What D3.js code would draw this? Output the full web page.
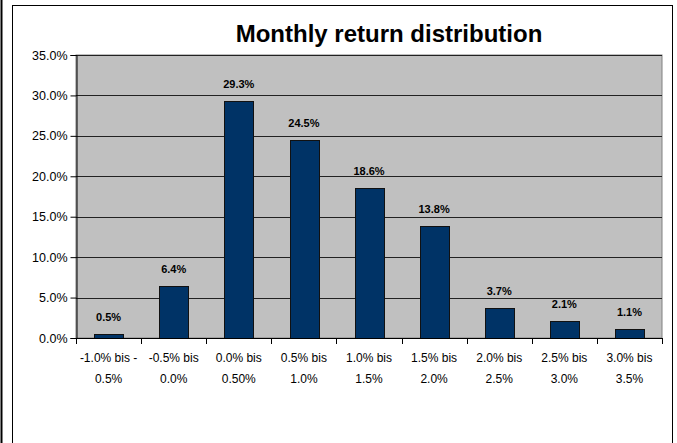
<!DOCTYPE html>
<html><head><meta charset="utf-8">
<script src="https://cdn.jsdelivr.net/npm/d3@7"></script>
<style>body{margin:0;background:#fff;}svg{display:block;font-family:"Liberation Sans",Arial,sans-serif;}</style>
</head><body>
<script>
const categories1 = ["-1.0% bis -","-0.5% bis","0.0% bis","0.5% bis","1.0% bis","1.5% bis","2.0% bis","2.5% bis","3.0% bis"];
const categories2 = ["0.5%","0.0%","0.50%","1.0%","1.5%","2.0%","2.5%","3.0%","3.5%"];
const values = [0.5, 6.4, 29.3, 24.5, 18.6, 13.8, 3.7, 2.1, 1.1];
const valueLabels = ["0.5%","6.4%","29.3%","24.5%","18.6%","13.8%","3.7%","2.1%","1.1%"];
const yTicks = [0,5,10,15,20,25,30,35];

const W=677,H=443;
const svg=d3.select("body").append("svg").attr("width",W).attr("height",H);
// outer frames
svg.append("line").attr("x1",1.5).attr("x2",1.5).attr("y1",0).attr("y2",H).attr("stroke","#000").attr("stroke-width",2);
svg.append("rect").attr("x",12.5).attr("y",5.5).attr("width",660).attr("height",450).attr("fill","#fff").attr("stroke","#000").attr("stroke-width",1);

const L=76,R=662,T=55,B=338;
const x=d3.scaleBand().domain(d3.range(values.length)).range([L,R]).paddingInner(0.56).paddingOuter(0.28);
const xTick=d3.scaleBand().domain(d3.range(values.length)).range([L,R]);
const y=d3.scaleLinear().domain([0,35]).range([B,T]);

svg.append("rect").attr("x",L).attr("y",T).attr("width",R-L).attr("height",B-T).attr("fill","#c0c0c0").attr("stroke","#808080").attr("stroke-width",1);

svg.append("g").selectAll("line").data(yTicks.filter(d=>d>0)).join("line")
 .attr("x1",L).attr("x2",R).attr("y1",d=>Math.round(y(d))+0.5).attr("y2",d=>Math.round(y(d))+0.5)
 .attr("stroke","#222").attr("stroke-width",1);

// y axis
const ya=svg.append("g").attr("transform",`translate(${L+0.5},0)`).call(d3.axisLeft(y).tickValues(yTicks).tickFormat(d=>d.toFixed(1)+"%").tickSize(6).tickPadding(3));
ya.selectAll("text").attr("font-size",12.5).attr("fill","#000").attr("font-family","Liberation Sans, Arial, sans-serif");
ya.select(".domain").attr("stroke","#000");
ya.selectAll(".tick line").attr("stroke","#000");

// bars
svg.append("g").selectAll("rect").data(values).join("rect")
 .attr("x",(d,i)=>Math.round(x(i))+0.5).attr("width",Math.round(x.bandwidth()))
 .attr("y",d=>Math.round(y(d))+0.5).attr("height",d=>B-Math.round(y(d)))
 .attr("fill","#003366").attr("stroke","#111").attr("stroke-width",1);

// x axis
svg.append("line").attr("x1",L).attr("x2",R+1).attr("y1",B+0.5).attr("y2",B+0.5).attr("stroke","#000");
svg.append("g").selectAll("line").data(d3.range(values.length+1)).join("line")
 .attr("x1",i=>Math.round(L+i*xTick.step())+0.5).attr("x2",i=>Math.round(L+i*xTick.step())+0.5)
 .attr("y1",B).attr("y2",B+6).attr("stroke","#000");

const xl=svg.append("g").attr("font-size",12).attr("text-anchor","middle").attr("fill","#000");
xl.selectAll("text.l1").data(categories1).join("text").attr("class","l1")
 .attr("x",(d,i)=>xTick(i)+xTick.bandwidth()/2).attr("y",362).text(d=>d);
xl.selectAll("text.l2").data(categories2).join("text").attr("class","l2")
 .attr("x",(d,i)=>xTick(i)+xTick.bandwidth()/2).attr("y",383).text(d=>d);

// data labels
svg.append("g").attr("font-size",11).attr("font-weight","bold").attr("text-anchor","middle")
 .selectAll("text").data(values).join("text")
 .attr("x",(d,i)=>x(i)+x.bandwidth()/2).attr("y",d=>y(d)-13).text((d,i)=>valueLabels[i]);

svg.append("text").attr("x",389).attr("y",42).attr("text-anchor","middle").attr("font-size",24).attr("font-weight","bold").text("Monthly return distribution");
</script>
</body></html>
